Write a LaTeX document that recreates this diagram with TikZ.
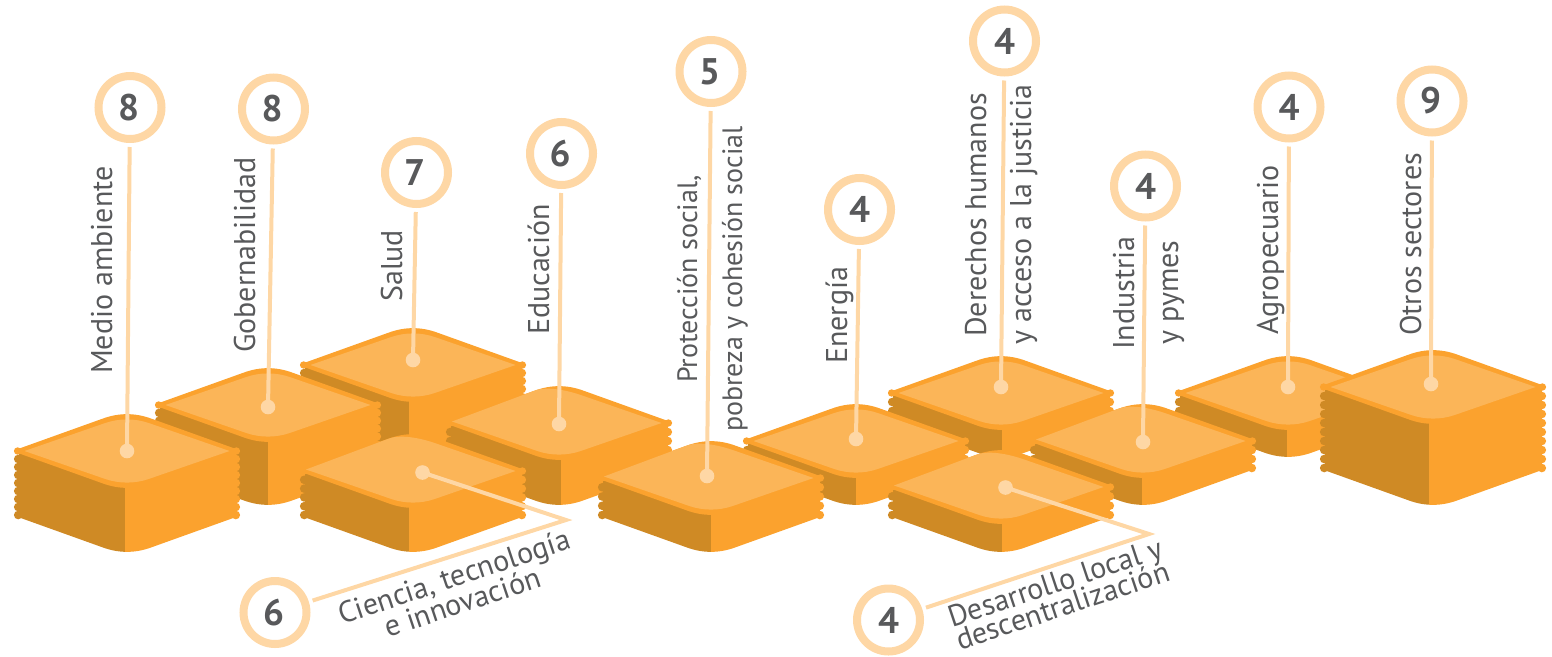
\documentclass[tikz,border=0pt]{standalone}
\usepackage{fontspec}
\setmainfont{PT Sans}
\definecolor{stackdark}{HTML}{CF8A25}
\definecolor{stackmain}{HTML}{FBA22E}
\definecolor{stacklight}{HTML}{FBB558}
\definecolor{pale}{HTML}{FED7A5}
\definecolor{ink}{HTML}{58595B}
\newcommand{\plateoutline}{(-106,-3.1) -- (-24,-32.5) .. controls (-8,-38.3) and (8,-38.3) .. (24,-32.5) -- (106,-3.1) .. controls (115,0) and (115,0) .. (106,3.1) -- (24,32.5) .. controls (8,38.3) and (-8,38.3) .. (-24,32.5) -- (-106,3.1) .. controls (-115,0) and (-115,0) .. (-106,-3.1) -- cycle}
\newcommand{\platefill}[1]{%
  \fill[#1] \plateoutline;
  \fill[#1] (-109.4,0) circle[radius=3.7];
  \fill[#1] (109.4,0) circle[radius=3.7];}
\newcommand{\facefull}{(-102.5,0) -- (-22,-27.9) .. controls (-8,-32.8) and (8,-32.8) .. (22,-27.9) -- (102.5,0) -- (22,27.9) .. controls (8,32.8) and (-8,32.8) .. (-22,27.9) -- cycle}
\newcommand{\faceopen}{(-102.5,0) -- (-107,-1.5) -- (-24,-32.5) .. controls (-12,-36.8) and (8,-32.8) .. (22,-27.9) -- (102.5,0) -- (22,27.9) .. controls (8,32.8) and (-8,32.8) .. (-22,27.9) -- cycle}
% centre x, mid y, body height, ridges, face path, x of the edge between dark and light side
\newcommand{\stackblock}[6]{%
  \begin{scope}[shift={(#1,#2)}]
    \pgfmathsetmacro{\edgex}{#6-#1}
    \foreach \col/\xa/\xb in {stackdark/-125/\edgex,stackmain/\edgex/125}{%
      \begin{scope}
        \clip (\xa,-10) rectangle (\xb,#3+50);
        \fill[\col] (-108.5,0) rectangle (108.5,#3);
        \begin{scope}[yshift=-#3pt]\fill[\col] \plateoutline;\end{scope}
        \foreach \k in {1,...,#4}{%
          \fill[\col] (-108.8,{\k*#3/#4}) circle[radius=4.3];
          \fill[\col] (108.8,{\k*#3/#4}) circle[radius=4.3];
        }
      \end{scope}
    }
    \platefill{stackmain}
    \fill[stacklight] #5;
  \end{scope}}
\tikzset{
  ring/.style={circle,draw=pale,line width=8pt,fill=white,minimum size=63pt,inner sep=0pt,outer sep=8pt,text=ink,font=\fontsize{37}{37}\selectfont\bfseries},
  pin/.style={circle,fill=pale,minimum size=14.6pt,inner sep=0pt,outer sep=0pt},
  leader/.style={draw=pale,line width=4pt},
  vlabel/.style={rotate=90,anchor=base west,inner sep=0pt,text=ink,font=\fontsize{30}{30}\selectfont},
  vlabelsmall/.style={vlabel,font=\fontsize{28}{28}\selectfont},
  slabel/.style={rotate=18.5,anchor=base west,inner sep=0pt,text=ink,font=\fontsize{30}{30}\selectfont}
}
\begin{document}
\begin{tikzpicture}[x=1pt,y=-1pt]
\useasboundingbox (0,0) rectangle (1552,656);
\stackblock{413}{365}{56}{7}{\facefull}{409}
\stackblock{268}{405}{63}{8}{\facefull}{268}
\stackblock{559}{423}{45}{5}{\faceopen}{561}
\stackblock{127}{451}{64}{8}{\facefull}{125}
\stackblock{413}{471}{44}{5}{\faceopen}{409}
\stackblock{1001}{393}{27}{3}{\facefull}{1002}
\stackblock{856}{441}{27}{3}{\facefull}{856}
\stackblock{711}{478}{37}{4}{\faceopen}{711}
\stackblock{1288}{393}{27}{3}{\facefull}{1287}
\stackblock{1143}{441}{27}{3}{\faceopen}{1142}
\stackblock{1001}{487}{28}{3}{\faceopen}{1002}
\stackblock{1433}{387}{81}{9}{\facefull}{1429}

\node[ring] (c1) at (130,107.5) {\kern-3pt 8};
\node[ring] (c2) at (273.5,109) {\kern-3pt 8};
\node[ring] (c3) at (416.5,172.5) {\kern-4pt 7};
\node[ring] (c4) at (561.5,153.5) {\kern-3pt 6};
\node[ring] (c5) at (711,71.5) {\kern-3pt 5};
\node[ring] (c6) at (859.5,209.5) {4};
\node[ring] (c7) at (1004.5,41) {4};
\node[ring] (c8) at (1145.5,186) {4};
\node[ring] (c9) at (1289,107) {4};
\node[ring] (c10) at (1432,101) {\kern-3pt 9};
\node[ring] (c11) at (275,612.5) {\kern-3pt 6};
\node[ring] (c12) at (888.5,620) {4};

\node[pin] (d1) at (127,451) {};
\node[pin] (d2) at (268,407) {};
\node[pin] (d3) at (413,360) {};
\node[pin] (d4) at (559,424) {};
\node[pin] (d5) at (707,476) {};
\node[pin] (d6) at (856,439) {};
\node[pin] (d7) at (1001,387) {};
\node[pin] (d8) at (1143,442) {};
\node[pin] (d9) at (1288,387) {};
\node[pin] (d10) at (1431,384) {};
\node[pin] (d11) at (422.5,472.5) {};
\node[pin] (d12) at (1005.5,487.5) {};
\coordinate (a11) at (566,520);
\coordinate (a12) at (1149,534);

\foreach \i in {1,...,10}{\draw[leader] (c\i) -- (d\i.center);}
\draw[leader] (d11.center) -- (a11) -- (c11);
\draw[leader] (d12.center) -- (a12) -- (c12);

\node[vlabel] (t1) at (112,374) {Medio ambiente};
\node[vlabel] (t2) at (255,353) {Gobernabilidad};
\node[vlabel] (t3) at (402,302) {Salud};
\node[vlabel] (t4) at (549,335) {Educación};
\node[vlabelsmall] (t5) at (697,383) {Protección social,};
\node[vlabelsmall] (t6) at (742,432) {pobreza y cohesión social};
\node[vlabel] (t7) at (847,364) {Energía};
\node[vlabel] (t8) at (986,337) {Derechos humanos};
\node[vlabel] (t9) at (1031,345) {y acceso a la justicia};
\node[vlabel] (t10) at (1134,350) {Industria};
\node[vlabel] (t11) at (1178,345) {y pymes};
\node[vlabel] (t12) at (1278,335) {Agropecuario};
\node[vlabel] (t13) at (1421,336) {Otros sectores};
\node[slabel] (t14) at (342,625) {Ciencia, tecnología};
\node[slabel] (t15) at (388,638) {e innovación};
\node[slabel] (t16) at (952,628) {Desarrollo local y};
\node[slabel] (t17) at (960,651) {descentralización};
\end{tikzpicture}
\end{document}
